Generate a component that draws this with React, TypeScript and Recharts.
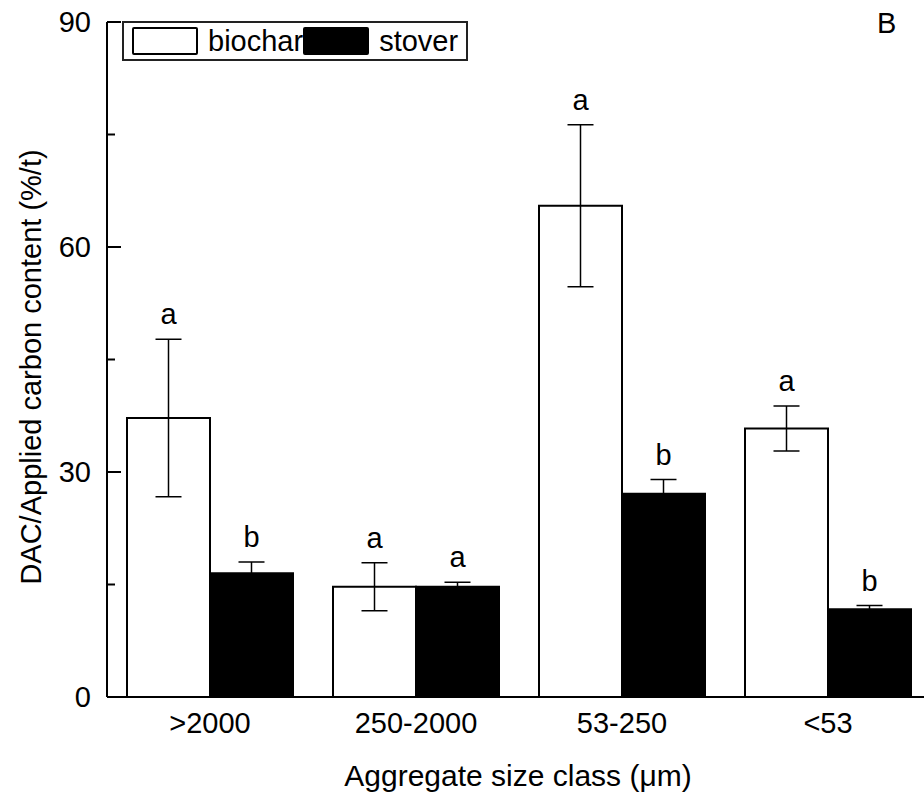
import { BarChart, Bar, XAxis, YAxis, ErrorBar, LabelList, Legend, Label } from "recharts";

const sizeClasses = [">2000", "250-2000", "53-250", "<53"];
const biochar = [37.2, 14.7, 65.5, 35.8];
const biocharErr = [10.5, 3.2, 10.8, 3.0];
const biocharSig = ["a", "a", "a", "a"];
const stover = [16.5, 14.7, 27.1, 11.7];
const stoverErr = [1.5, 0.6, 1.9, 0.5];
const stoverSig = ["b", "a", "b", "b"];
const yTicks = [0, 15, 30, 45, 60, 75, 90];

const FONT = "'Liberation Sans', Arial, sans-serif";

const data = sizeClasses.map((name, i) => ({
  name,
  biochar: biochar[i],
  biocharErr: biocharErr[i],
  biocharSig: biocharSig[i],
  stover: stover[i],
  stoverErr: stoverErr[i],
  stoverSig: stoverSig[i],
}));

function sigLabel(valKey: string, errKey: string) {
  return (props: any) => {
    const vb = props.viewBox ?? props;
    const { x, y, width, height } = vb;
    const d: any = data[props.index];
    if (!d) return null;
    const ppu = height / d[valKey];
    const errTop = y - d[errKey] * ppu;
    return (
      <text x={x + width / 2} y={errTop - 15} textAnchor="middle" fontSize={29} fontFamily={FONT} fill="#000">
        {props.value}
      </text>
    );
  };
}

function YTick({ x, y, payload }: any) {
  const major = payload.value % 30 === 0;
  return (
    <g>
      <line x1={x} x2={x + (major ? 14 : 8)} y1={y} y2={y} stroke="#000" strokeWidth={2} />
      {major && (
        <text x={x - 16} y={y + 10} textAnchor="end" fontSize={29} fontFamily={FONT} fill="#000">
          {payload.value}
        </text>
      )}
    </g>
  );
}

function XTick({ x, y, payload }: any) {
  return (
    <text x={x} y={y + 36} textAnchor="middle" fontSize={29} fontFamily={FONT} fill="#000">
      {payload.value}
    </text>
  );
}

function LegendBox() {
  const swatch = (fill: string) => (
    <span
      style={{
        display: "inline-block",
        width: 62,
        height: 24,
        background: fill,
        border: "2px solid #000",
        borderRadius: 2,
      }}
    />
  );
  return (
    <div
      style={{
        display: "flex",
        alignItems: "center",
        height: 36,
        padding: "0 8px 0 8px",
        border: "2px solid #222",
        background: "#fff",
        fontFamily: FONT,
        fontSize: 29,
        color: "#000",
        lineHeight: 1,
      }}
    >
      {swatch("#fff")}
      <span style={{ marginLeft: 10 }}>biochar</span>
      {swatch("#000")}
      <span style={{ marginLeft: 10 }}>stover</span>
    </div>
  );
}

export default function App() {
  return (
    <div style={{ position: "absolute", left: 0, top: 0, width: 924, height: 794, overflow: "hidden", background: "#fff" }}>
      <BarChart
        width={936}
        height={794}
        data={data}
        margin={{ top: 22, right: 5, left: 0, bottom: 0 }}
        barGap={0}
      >
        <XAxis
          dataKey="name"
          height={97}
          tickSize={0}
          tickMargin={0}
          tickLine={false}
          axisLine={{ stroke: "#000", strokeWidth: 2 }}
          tick={<XTick />}
          interval={0}
        >
          <Label
            content={(p: any) => {
              const vb = p.viewBox;
              return (
                <text x={vb.x + vb.width / 2 - 1} y={786} textAnchor="middle" fontSize={30} fontFamily={FONT} fill="#000">
                  Aggregate size class (μm)
                </text>
              );
            }}
          />
        </XAxis>
        <YAxis
          width={107}
          domain={[0, 90]}
          ticks={yTicks}
          tickSize={0}
          tickMargin={0}
          tickLine={false}
          axisLine={{ stroke: "#000", strokeWidth: 2 }}
          tick={<YTick />}
          interval={0}
        >
          <Label
            content={() => {
              const cx = 31;
              const cy = 367;
              return (
                <text
                  x={cx}
                  y={cy}
                  transform={`rotate(-90 ${cx} ${cy})`}
                  textAnchor="middle"
                  dominantBaseline="central"
                  fontSize={29}
                  fontFamily={FONT}
                  fill="#000"
                >
                  DAC/Applied carbon content (%/t)
                </text>
              );
            }}
          />
        </YAxis>
        <Legend
          layout="vertical"
          align="center"
          verticalAlign="middle"
          wrapperStyle={{ top: 21, left: 122, width: "auto", height: "auto" }}
          content={() => <LegendBox />}
        />
        <Bar dataKey="biochar" fill="#fff" stroke="#000" strokeWidth={2} barSize={83} isAnimationActive={false}>
          <ErrorBar dataKey="biocharErr" width={13} stroke="#000" strokeWidth={1.5} />
          <LabelList dataKey="biocharSig" content={sigLabel("biochar", "biocharErr")} />
        </Bar>
        <Bar dataKey="stover" fill="#000" stroke="#000" strokeWidth={2} barSize={83} isAnimationActive={false}>
          <ErrorBar dataKey="stoverErr" width={13} stroke="#000" strokeWidth={1.5} />
          <LabelList dataKey="stoverSig" content={sigLabel("stover", "stoverErr")} />
        </Bar>
      </BarChart>
      <div style={{ position: "absolute", left: 877, top: 9, fontFamily: FONT, fontSize: 29, lineHeight: "29px" }}>B</div>
    </div>
  );
}
